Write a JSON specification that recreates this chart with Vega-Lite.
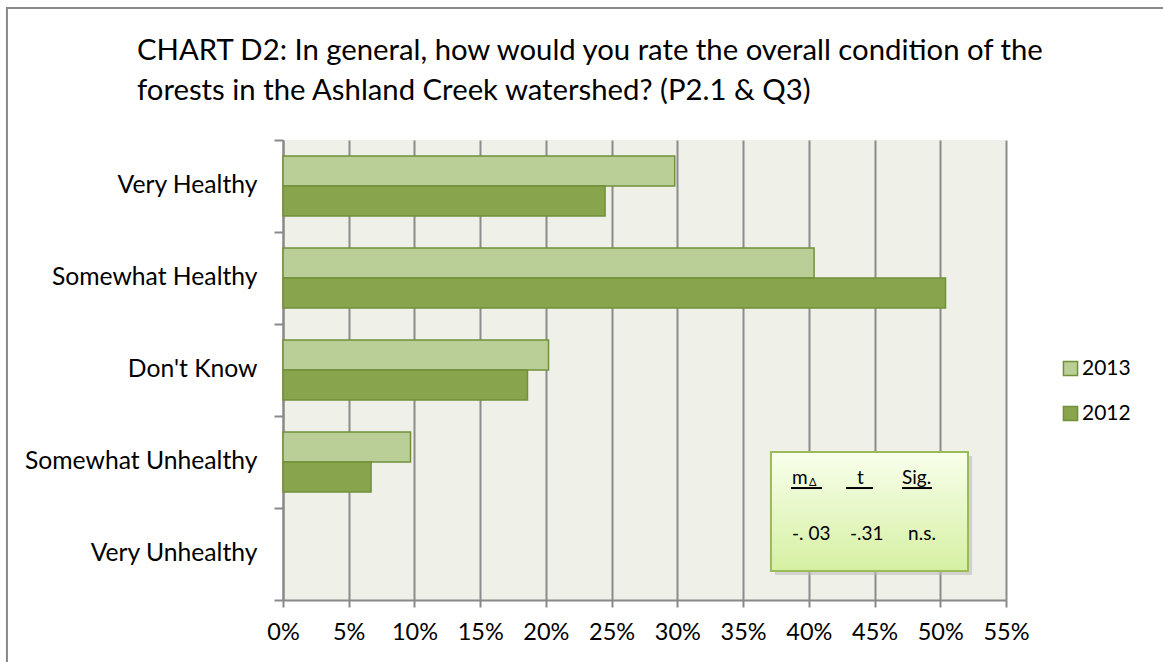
{
  "$schema": "https://vega.github.io/schema/vega-lite/v6.json",
  "width": 723,
  "height": 460,
  "autosize": {"type": "none"},
  "padding": {"left": 283, "top": 140, "right": 157, "bottom": 62},
  "background": "white",
  "title": {
    "text": ["CHART D2: In general, how would you rate the overall condition of the", "forests in the Ashland Creek watershed? (P2.1 & Q3)"],
    "anchor": "start",
    "frame": "group",
    "dx": -146,
    "offset": -99,
    "fontSize": 29.3,
    "font": "Lato",
    "fontWeight": "normal",
    "lineHeight": 40,
    "color": "#000000"
  },
  "config": {
    "view": {"fill": "#EFF1E9", "stroke": null},
    "font": "Lato"
  },
  "datasets": {
    "bars": [
      {"cat": "Very Healthy", "year": "2013", "value": 0.298},
      {"cat": "Very Healthy", "year": "2012", "value": 0.245},
      {"cat": "Somewhat Healthy", "year": "2013", "value": 0.404},
      {"cat": "Somewhat Healthy", "year": "2012", "value": 0.504},
      {"cat": "Don't Know", "year": "2013", "value": 0.202},
      {"cat": "Don't Know", "year": "2012", "value": 0.186},
      {"cat": "Somewhat Unhealthy", "year": "2013", "value": 0.097},
      {"cat": "Somewhat Unhealthy", "year": "2012", "value": 0.067},
      {"cat": "Very Unhealthy", "year": "2013", "value": 0},
      {"cat": "Very Unhealthy", "year": "2012", "value": 0}
    ],
    "frame": [{"x": -0.21, "x2": 0.8, "y": -1.435, "y2": 8}],
    "box": [{"x": 0.3712, "x2": 0.5211, "y": 3.391, "y2": 4.685}],
    "shadow": [{"x": 0.3743, "x2": 0.5242, "y": 3.435, "y2": 4.728}],
    "texts": [
      {"x": 0.3872, "y": 3.739, "t": "m"},
      {"x": 0.4367, "y": 3.739, "t": "t"},
      {"x": 0.4709, "y": 3.739, "t": "Sig."},
      {"x": 0.3872, "y": 4.348, "t": "-. 03"},
      {"x": 0.4313, "y": 4.348, "t": "-.31"},
      {"x": 0.4755, "y": 4.348, "t": "n.s."}
    ],
    "sub": [{"x": 0.4002, "y": 3.76, "t": "Δ"}],
    "lines": [
      {"x": 0.3864, "x2": 0.41, "y": 3.783},
      {"x": 0.4283, "x2": 0.4488, "y": 3.783},
      {"x": 0.4709, "x2": 0.4937, "y": 3.783}
    ]
  },
  "layer": [
    {
      "data": {"name": "bars"},
      "mark": {"type": "bar", "stroke": "#71903A", "strokeWidth": 1.5},
      "encoding": {
        "y": {
          "field": "cat", "type": "nominal",
          "sort": ["Very Healthy", "Somewhat Healthy", "Don't Know", "Somewhat Unhealthy", "Very Unhealthy"],
          "scale": {"paddingInner": 0, "paddingOuter": 0},
          "axis": {"title": null, "orient": "left", "ticks": false, "tickSize": 0, "domain": false, "labelFontSize": 24.7, "labelFont": "Lato", "labelColor": "#000000", "labelPadding": 26, "labelLimit": 0}
        },
        "yOffset": {"field": "year", "sort": ["2013", "2012"], "scale": {"paddingOuter": 0.533, "paddingInner": 0}},
        "x": {
          "field": "value", "type": "quantitative", "title": null,
          "scale": {"domain": [0, 0.55], "nice": false},
          "axis": {
            "title": null, "format": "%", "orient": "bottom",
            "values": [0, 0.05, 0.1, 0.15, 0.2, 0.25, 0.3, 0.35, 0.4, 0.45, 0.5, 0.55],
            "grid": true, "gridColor": "#8C8C8C", "gridWidth": 2,
            "domainColor": "#888888", "domainWidth": 2,
            "tickColor": "#888888", "tickWidth": 2, "tickSize": 7,
            "labelFontSize": 23.5, "labelFont": "Lato", "labelColor": "#000000", "labelPadding": 13,
            "labelFlush": false, "labelOverlap": false
          }
        },
        "color": {
          "field": "year", "type": "nominal",
          "scale": {"domain": ["2013", "2012"], "range": ["#B9CF97", "#88A44C"]},
          "legend": {
            "title": null, "orient": "none", "legendX": 777, "legendY": 218,
            "symbolType": "square", "symbolSize": 200, "symbolStrokeColor": "#71903A", "symbolStrokeWidth": 1.5,
            "labelFontSize": 21, "labelFont": "Lato", "labelColor": "#000000", "rowPadding": 23, "labelOffset": 1
          }
        },
        "strokeOpacity": {"condition": {"test": "datum.value === 0", "value": 0}, "value": 1}
      }
    },
    {
      "data": {"name": "bars"},
      "mark": {"type": "bar", "opacity": 0},
      "encoding": {
        "y": {
          "field": "cat", "type": "nominal",
          "sort": ["Very Healthy", "Somewhat Healthy", "Don't Know", "Somewhat Unhealthy", "Very Unhealthy"],
          "scale": {"paddingInner": 0, "paddingOuter": 0},
          "axis": {"title": null, "orient": "left", "labels": false, "ticks": true, "tickSize": 9, "tickColor": "#888888", "tickWidth": 2, "bandPosition": 1, "tickExtra": true, "domain": true, "domainColor": "#888888", "domainWidth": 2, "grid": false}
        },
        "x": {"field": "value", "type": "quantitative", "title": null}
      }
    },
    {
      "data": {"name": "frame"},
      "mark": {"type": "rect", "fill": null, "fillOpacity": 0, "stroke": "#888888", "strokeWidth": 2, "clip": false},
      "encoding": {
        "x": {"field": "x", "type": "quantitative", "title": null},
        "x2": {"field": "x2"},
        "y": {"field": "y", "type": "quantitative", "scale": {"domain": [0, 5], "reverse": true, "nice": false, "zero": false}, "axis": null},
        "y2": {"field": "y2"}
      }
    },
    {
      "data": {"name": "shadow"},
      "mark": {"type": "rect", "fill": "#B8B8B8", "opacity": 0.55},
      "encoding": {
        "x": {"field": "x", "type": "quantitative", "title": null},
        "x2": {"field": "x2"},
        "y": {"field": "y", "type": "quantitative", "scale": {"domain": [0, 5], "reverse": true, "nice": false, "zero": false}, "axis": null},
        "y2": {"field": "y2"}
      }
    },
    {
      "data": {"name": "box"},
      "mark": {
        "type": "rect",
        "fill": {"gradient": "linear", "x1": 0, "y1": 0, "x2": 0, "y2": 1, "stops": [{"offset": 0, "color": "#F8FFEC"}, {"offset": 1, "color": "#D5F0A2"}]},
        "stroke": "#9BBB59", "strokeWidth": 2
      },
      "encoding": {
        "x": {"field": "x", "type": "quantitative", "title": null},
        "x2": {"field": "x2"},
        "y": {"field": "y", "type": "quantitative", "scale": {"domain": [0, 5], "reverse": true, "nice": false, "zero": false}, "axis": null},
        "y2": {"field": "y2"}
      }
    },
    {
      "data": {"name": "texts"},
      "mark": {"type": "text", "align": "left", "baseline": "alphabetic", "fontSize": 19, "font": "Lato", "color": "#000000"},
      "encoding": {
        "x": {"field": "x", "type": "quantitative", "title": null},
        "y": {"field": "y", "type": "quantitative", "scale": {"domain": [0, 5], "reverse": true, "nice": false, "zero": false}, "axis": null},
        "text": {"field": "t"}
      }
    },
    {
      "data": {"name": "sub"},
      "mark": {"type": "text", "align": "left", "baseline": "alphabetic", "fontSize": 11, "font": "Lato", "color": "#000000"},
      "encoding": {
        "x": {"field": "x", "type": "quantitative", "title": null},
        "y": {"field": "y", "type": "quantitative", "scale": {"domain": [0, 5], "reverse": true, "nice": false, "zero": false}, "axis": null},
        "text": {"field": "t"}
      }
    },
    {
      "data": {"name": "lines"},
      "mark": {"type": "rule", "color": "#000000", "strokeWidth": 2},
      "encoding": {
        "x": {"field": "x", "type": "quantitative", "title": null},
        "x2": {"field": "x2"},
        "y": {"field": "y", "type": "quantitative", "scale": {"domain": [0, 5], "reverse": true, "nice": false, "zero": false}, "axis": null}
      }
    }
  ],
  "resolve": {"scale": {"y": "independent"}, "axis": {"y": "independent"}}
}
